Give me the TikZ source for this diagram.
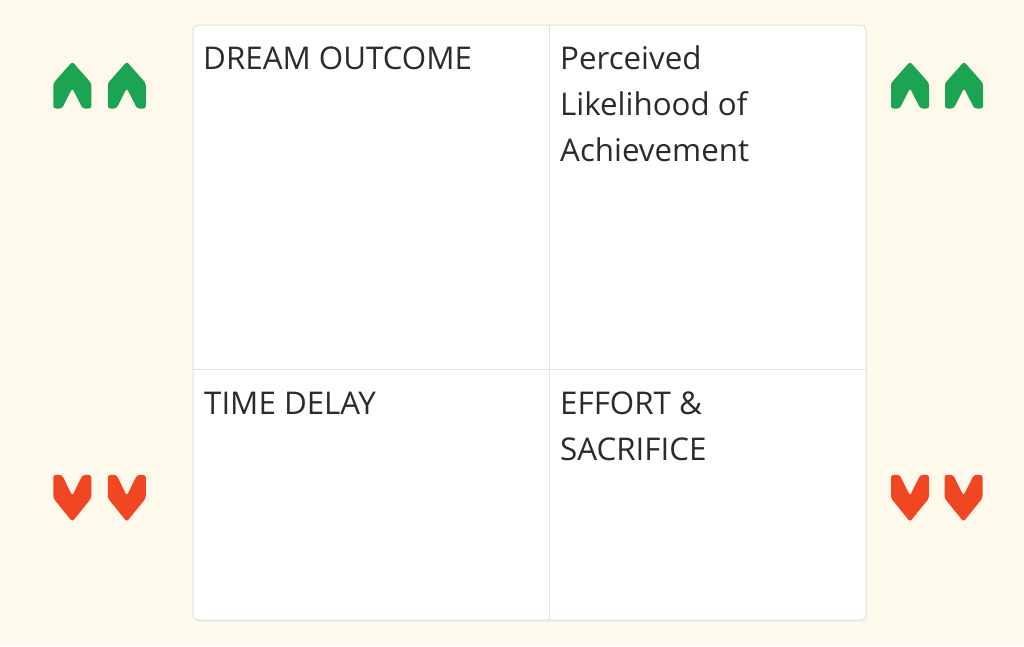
\documentclass[tikz,border=0pt]{standalone}
\usepackage{fontspec}
\setmainfont{Open Sans}
\definecolor{bgc}{HTML}{FFF9EC}
\definecolor{linec}{HTML}{E2E2E2}
\definecolor{txt}{HTML}{2B2B2B}
\definecolor{upg}{HTML}{1BA552}
\definecolor{dnr}{HTML}{F04622}
\tikzset{
  lbl/.style={anchor=base west, inner sep=0pt, text=txt, font=\fontsize{31.3}{46}\selectfont},
  upchev/.pic={\fill[upg, rounded corners=2.5pt] (0,0) -- (19,21.5) -- (19,46.8) -- (10.3,46.8) -- (0,26.5) -- (-10.3,46.8) -- (-19,46.8) -- (-19,21.5) -- cycle;},
  dnchev/.pic={\fill[dnr, rounded corners=2.5pt] (0,0) -- (19,-23.5) -- (19,-46.8) -- (10.3,-46.8) -- (0,-26) -- (-10.3,-46.8) -- (-19,-46.8) -- (-19,-23.5) -- cycle;},
}
\begin{document}
\begin{tikzpicture}[x=1pt,y=-1pt]
\fill[bgc] (0,0) rectangle (1024,646);
\useasboundingbox (0,0) rectangle (1024,646);
% board
\coordinate (tl) at (193,25);
\coordinate (br) at (866,620);
\coordinate (vt) at (549,25);
\coordinate (vb) at (549,620);
\coordinate (hl) at (193,369);
\coordinate (hr) at (866,369);
\fill[black!6, rounded corners=6pt] (194,27) rectangle (867,622);
\draw[linec, fill=white, line width=1pt, rounded corners=5pt] (tl) rectangle (br);
\draw[linec, line width=1pt] (vt) -- (vb);
\draw[linec, line width=1pt] (hl) -- (hr);
% texts
\node[lbl] (dream) at (203,69) {DREAM OUTCOME};
\node[lbl] (pl1) at (560,69) {Perceived};
\node[lbl] (pl2) at (560,115) {Likelihood of};
\node[lbl] (pl3) at (560,161) {Achievement};
\node[lbl] (time) at (204,414) {TIME DELAY};
\node[lbl] (eff1) at (560,414) {EFFORT \&};
\node[lbl] (eff2) at (560,460) {SACRIFICE};
% chevrons
\pic at (72.3,61.7) {upchev};
\pic at (126.8,61.7) {upchev};
\pic at (910,61.7) {upchev};
\pic at (964,61.7) {upchev};
\pic at (72.3,521.7) {dnchev};
\pic at (126.8,521.7) {dnchev};
\pic at (910,521.7) {dnchev};
\pic at (963.5,521.7) {dnchev};
\end{tikzpicture}
\end{document}
